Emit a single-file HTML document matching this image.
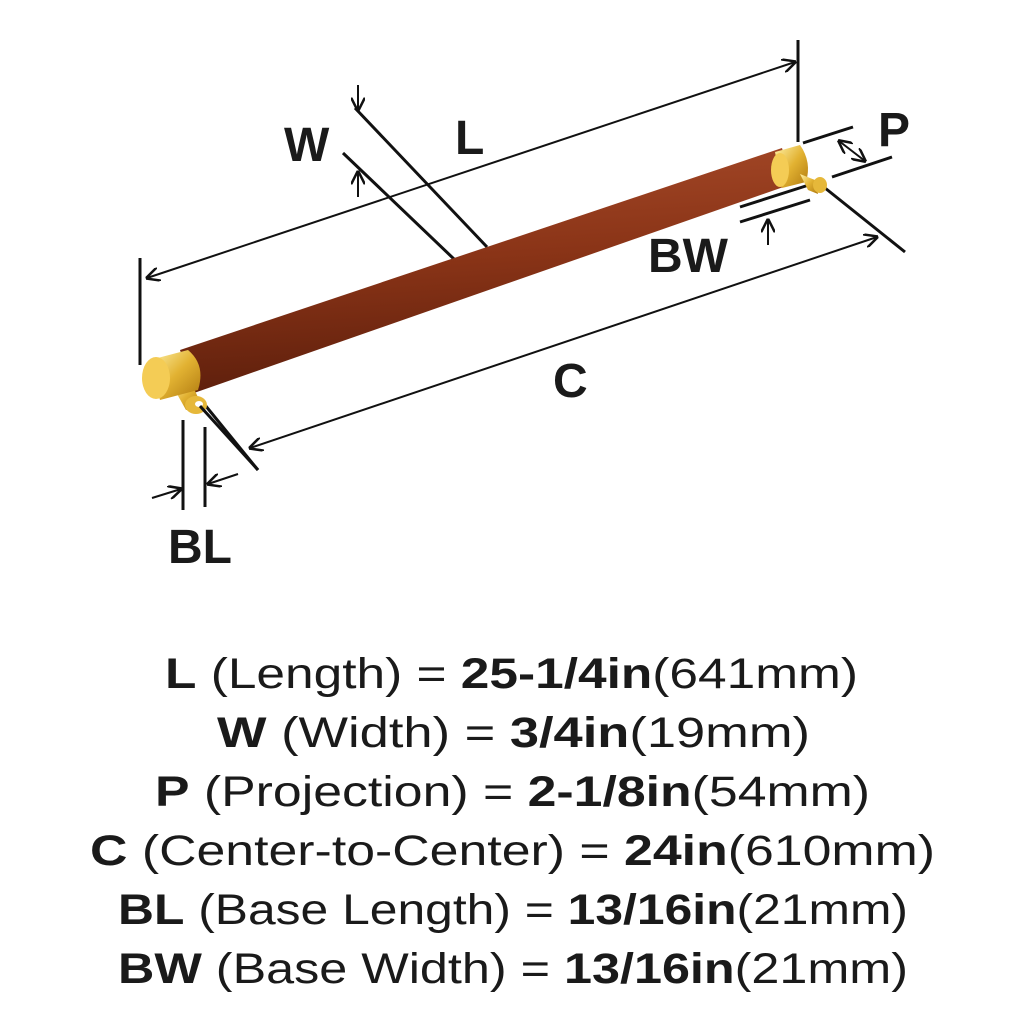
<!DOCTYPE html>
<html><head><meta charset="utf-8"><style>
html,body{margin:0;padding:0;background:#fff;}
svg{display:block}
text{font-family:"Liberation Sans",sans-serif;fill:#1a1a1a}
</style></head><body>
<svg width="1024" height="1024" viewBox="0 0 1024 1024" xmlns="http://www.w3.org/2000/svg">
<defs>
<marker id="a" viewBox="0 0 10 10" refX="9" refY="5" markerWidth="7" markerHeight="7" orient="auto-start-reverse"><path d="M0,0 L10,5 L0,10" fill="none" stroke="#111" stroke-width="1.8"/></marker>
<linearGradient id="br" x1="0" y1="0" x2="0.15" y2="1"><stop offset="0" stop-color="#a84b2a"/><stop offset="0.5" stop-color="#8a3417"/><stop offset="1" stop-color="#5e1f0c"/></linearGradient>
<linearGradient id="gd" x1="0" y1="0" x2="1" y2="1"><stop offset="0" stop-color="#fff2a8"/><stop offset="0.5" stop-color="#e2b232"/><stop offset="1" stop-color="#b07a10"/></linearGradient>
</defs>
<g stroke="#111" stroke-width="3" fill="none">
<line x1="140" y1="258" x2="140" y2="365"/>
<line x1="798" y1="40" x2="798" y2="142"/>
<line x1="147" y1="278" x2="795" y2="62" stroke-width="2" marker-start="url(#a)" marker-end="url(#a)"/>
<line x1="355" y1="108" x2="487" y2="247"/>
<line x1="343" y1="153" x2="455" y2="260"/>
<line x1="358" y1="85" x2="358" y2="110" stroke-width="2" marker-end="url(#a)"/>
<line x1="358" y1="197" x2="358" y2="172" stroke-width="2" marker-end="url(#a)"/>
<line x1="205" y1="405" x2="258" y2="470"/>
<line x1="815" y1="180" x2="905" y2="252"/>
<line x1="250" y1="448" x2="877" y2="237" stroke-width="2" marker-start="url(#a)" marker-end="url(#a)"/>
<line x1="183" y1="420" x2="183" y2="510"/>
<line x1="205" y1="427" x2="205" y2="507"/>
<line x1="152" y1="498" x2="181" y2="489" stroke-width="2" marker-end="url(#a)"/>
<line x1="238" y1="474" x2="208" y2="484" stroke-width="2" marker-end="url(#a)"/>
<line x1="803" y1="143" x2="853" y2="127"/>
<line x1="832" y1="177" x2="892" y2="157"/>
<line x1="839" y1="141" x2="865" y2="161" stroke-width="2" marker-start="url(#a)" marker-end="url(#a)"/>
<line x1="740" y1="207" x2="812" y2="184"/>
<line x1="740" y1="222" x2="810" y2="200"/>
<line x1="768" y1="162" x2="768" y2="190" stroke-width="2" marker-end="url(#a)"/>
<line x1="768" y1="245" x2="768" y2="220" stroke-width="2" marker-end="url(#a)"/>
</g>
<path d="M180,350 L782,148 L792,184 L194,393 Z" fill="url(#br)"/>
<path d="M172,385 L186,410 L202,406 L190,380 Z" fill="url(#gd)"/>
<ellipse cx="196" cy="405" rx="11" ry="9" fill="#e6b83a"/>
<ellipse cx="199" cy="404" rx="4" ry="3" fill="#fff"/>
<path d="M150,360 L188,350 Q206,365 198,390 L160,400 Z" fill="url(#gd)"/>
<ellipse cx="156" cy="378" rx="14" ry="21" fill="#f4cc55"/>
<line x1="200" y1="406" x2="258" y2="470" stroke="#111" stroke-width="3"/>
<path d="M775,152 L800,145 Q812,162 806,182 L782,188 Z" fill="url(#gd)"/>
<ellipse cx="780" cy="170" rx="9" ry="17" fill="#f4cc55"/>
<path d="M800,174 L815,180 L818,194 L808,190 Z" fill="url(#gd)"/>
<ellipse cx="820" cy="185" rx="7" ry="8" fill="#e6b83a"/>
<g font-weight="bold" font-size="48">
<text x="284" y="161">W</text>
<text x="455" y="154">L</text>
<text x="878" y="146">P</text>
<text x="648" y="272">BW</text>
<text x="553" y="397">C</text>
<text x="168" y="563">BL</text>
</g>
<g font-size="43">
<text x="165" y="688" textLength="693" lengthAdjust="spacingAndGlyphs"><tspan font-weight="bold">L</tspan> (Length) = <tspan font-weight="bold">25-1/4in</tspan>(641mm)</text>
<text x="217" y="747" textLength="593" lengthAdjust="spacingAndGlyphs"><tspan font-weight="bold">W</tspan> (Width) = <tspan font-weight="bold">3/4in</tspan>(19mm)</text>
<text x="155" y="806" textLength="715" lengthAdjust="spacingAndGlyphs"><tspan font-weight="bold">P</tspan> (Projection) = <tspan font-weight="bold">2-1/8in</tspan>(54mm)</text>
<text x="90" y="865" textLength="845" lengthAdjust="spacingAndGlyphs"><tspan font-weight="bold">C</tspan> (Center-to-Center) = <tspan font-weight="bold">24in</tspan>(610mm)</text>
<text x="118" y="924" textLength="790" lengthAdjust="spacingAndGlyphs"><tspan font-weight="bold">BL</tspan> (Base Length) = <tspan font-weight="bold">13/16in</tspan>(21mm)</text>
<text x="118" y="983" textLength="790" lengthAdjust="spacingAndGlyphs"><tspan font-weight="bold">BW</tspan> (Base Width) = <tspan font-weight="bold">13/16in</tspan>(21mm)</text>
</g>
</svg>
</body></html>
